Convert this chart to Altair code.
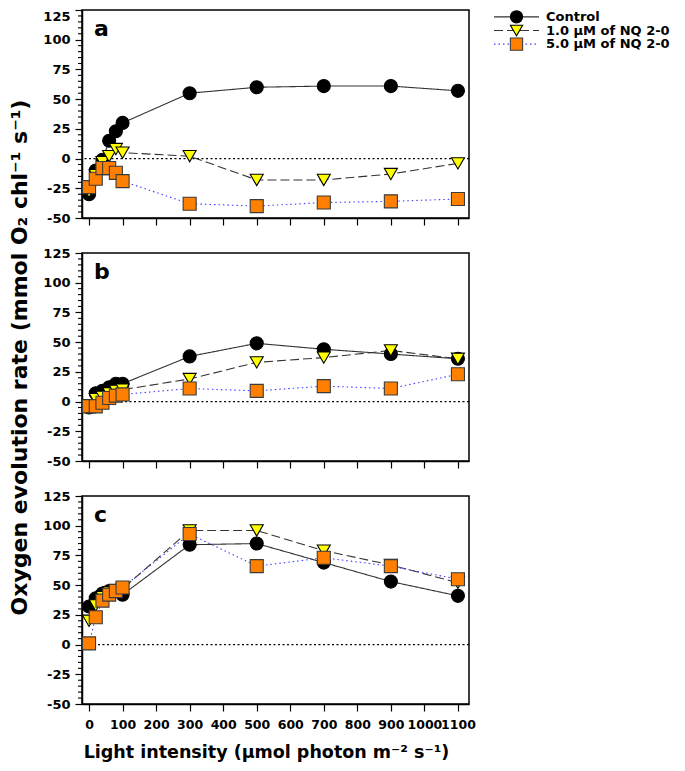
import altair as alt
import pandas as pd

# ---------------- data ----------------
X_VALUES = [0, 20, 40, 60, 80, 100, 300, 500, 700, 900, 1100]
SERIES = ["Control", "1.0 µM of NQ 2-0", "5.0 µM of NQ 2-0"]

A_CONTROL = [-30, -10, -1, 15, 23, 30, 55, 60, 61, 61, 57]
A_NQ1 = [-28, -14, -3, 2, 8, 5, 2, -18, -18, -13, -4]
A_NQ5 = [-24, -17, -8, -8, -12, -19, -38, -40, -37, -36, -34]

B_CONTROL = [-5, 7, 9, 12, 15, 15, 38, 49, 44, 40, 36]
B_NQ1 = [-3, 2, 4, 7, 9, 10, 19, 33, 37, 43, 36]
B_NQ5 = [-4, -4, -1, 3, 5, 6, 11, 9, 13, 11, 23]

C_CONTROL = [32, 39, 43, 45, 45, 42, 84, 85, 69, 53, 41]
C_NQ1 = [20, 33, 40, 44, 46, 47, 96, 96, 79, 67, 52]
C_NQ5 = [1, 23, 37, 42, 45, 48, 93, 66, 73, 66, 55]

PANEL_LETTERS = ["a", "b", "c"]
X_TICKS = [0, 100, 200, 300, 400, 500, 600, 700, 800, 900, 1000, 1100]
Y_TICKS = [-50, -25, 0, 25, 50, 75, 100, 125]
Y_MINOR = [v for v in range(-50, 126, 5) if v % 25 != 0]
ZERO = [0]

X_TITLE = "Light intensity (µmol photon m⁻² s⁻¹)"
Y_TITLE = "Oxygen evolution rate (mmol O₂ chl⁻¹ s⁻¹)"

FONT = "DejaVu Sans"

# ---------------- scales ----------------
x_scale = alt.Scale(domain=[-21, 1133], nice=False, zero=False)
y_scale = alt.Scale(domain=[-50, 125], nice=False, zero=False)

color_scale = alt.Scale(domain=SERIES, range=["#333333", "#333333", "#4040ff"])
dash_scale = alt.Scale(domain=SERIES, range=[[1, 0], [9, 4], [1.5, 3]])
shape_scale = alt.Scale(domain=SERIES, range=["circle", "triangle-down", "square"])
fill_scale = alt.Scale(domain=SERIES, range=["#000000", "#ffff00", "#ff8000"])
stroke_scale = alt.Scale(domain=SERIES, range=["#000000", "#000000", "#3a3a3a"])

W, H = 387, 208


def panel(letter, values, bottom, ytitle, top):
    rows = []
    for s, vals in zip(SERIES, values):
        for x, y in zip(X_VALUES, vals):
            rows.append({"series": s, "x": x, "y": y})
    df = pd.DataFrame(rows)

    x_axis = alt.Axis(values=X_TICKS, labels=bottom, tickSize=7, labelPadding=7,
                      labelFlush=False, labelOverlap=False, grid=False,
                      labelExpr="'' + datum.value", labelFontSize=12.5,
                      title=X_TITLE if bottom else None, titlePadding=13,
                      titleFontSize=17.5, titleX=184)
    y_kwargs = dict(values=Y_TICKS, tickSize=7, labelPadding=5, grid=False,
                    labelExpr="'' + datum.value",
                    title=Y_TITLE if ytitle else None, titlePadding=11,
                    titleFontSize=22)
    if top:
        y_kwargs["labelBaseline"] = {"condition": {"test": "datum.value == 125", "value": "top"},
                                     "value": "middle"}
    y_axis = alt.Axis(**y_kwargs)

    X = alt.X("x:Q", scale=x_scale, axis=x_axis)
    Y = alt.Y("y:Q", scale=y_scale, axis=y_axis)

    zero = alt.Chart(pd.DataFrame({"y": ZERO})).mark_rule(
        color="black", strokeDash=[2, 2.5], strokeWidth=1.3
    ).encode(y=Y)

    minor = alt.Chart(pd.DataFrame({"y": Y_MINOR})).mark_tick(
        color="black", thickness=1.1, size=4, opacity=1
    ).encode(y=Y, x=alt.value(-2))

    lines = alt.Chart(df).mark_line(strokeWidth=1.1).encode(
        x=X, y=Y,
        color=alt.Color("series:N", scale=color_scale, legend=None),
        strokeDash=alt.StrokeDash("series:N", scale=dash_scale, legend=None),
        detail="series:N",
    )
    points = alt.Chart(df).mark_point(filled=True, size=170, strokeWidth=1.1, opacity=1).encode(
        x=X, y=Y,
        shape=alt.Shape("series:N", scale=shape_scale, legend=None),
        fill=alt.Fill("series:N", scale=fill_scale, legend=None),
        stroke=alt.Stroke("series:N", scale=stroke_scale, legend=None),
    )
    label = alt.Chart(pd.DataFrame({"t": [letter]})).mark_text(
        align="left", baseline="alphabetic", font=FONT, fontSize=22,
        fontWeight="bold", color="black"
    ).encode(text="t:N", x=alt.value(12), y=alt.value(26))

    return alt.layer(zero, minor, lines, points, label).properties(
        width=W, height=H,
        view=alt.ViewBackground(stroke="black", strokeWidth=1.5),
    )


pa = panel(PANEL_LETTERS[0], [A_CONTROL, A_NQ1, A_NQ5], False, False, True)
pb = panel(PANEL_LETTERS[1], [B_CONTROL, B_NQ1, B_NQ5], False, True, False)
pc = panel(PANEL_LETTERS[2], [C_CONTROL, C_NQ1, C_NQ5], True, False, False)

left = alt.vconcat(pa, pb, pc, spacing=35, bounds="flush")

# ---------------- legend ----------------
leg_df = pd.DataFrame({"series": SERIES})
LY = alt.Y("series:N", sort=SERIES, axis=None, scale=alt.Scale(type="point", padding=0.5))
leg_line = alt.Chart(leg_df).mark_rule(strokeWidth=1.1).encode(
    y=LY, x=alt.value(0), x2=alt.value(45),
    color=alt.Color("series:N", scale=color_scale, legend=None),
    strokeDash=alt.StrokeDash("series:N", scale=dash_scale, legend=None),
)
leg_pt = alt.Chart(leg_df).mark_point(filled=True, size=150, strokeWidth=1.1, opacity=1).encode(
    y=LY, x=alt.value(22.5),
    shape=alt.Shape("series:N", scale=shape_scale, legend=None),
    fill=alt.Fill("series:N", scale=fill_scale, legend=None),
    stroke=alt.Stroke("series:N", scale=stroke_scale, legend=None),
)
leg_txt = alt.Chart(leg_df).mark_text(
    align="left", baseline="middle", font=FONT, fontSize=13, fontWeight="bold", color="black"
).encode(y=LY, x=alt.value(52), text="series:N")
legend = alt.layer(leg_line, leg_pt, leg_txt).properties(width=180, height=41)

chart = alt.hconcat(left, legend, spacing=15).properties(
    padding={"left": 0, "top": 0, "right": 0, "bottom": 0}
).configure_view(
    stroke="transparent"
).configure_axis(
    domainColor="black", domainWidth=1.5, tickColor="black", tickWidth=1.2,
    labelFont=FONT, labelFontSize=13, labelFontWeight="bold", labelColor="black",
    titleFont=FONT, titleFontSize=18, titleFontWeight="bold", titleColor="black",
)

chart.save("out.html", embed_options={"renderer": "svg", "actions": False})
